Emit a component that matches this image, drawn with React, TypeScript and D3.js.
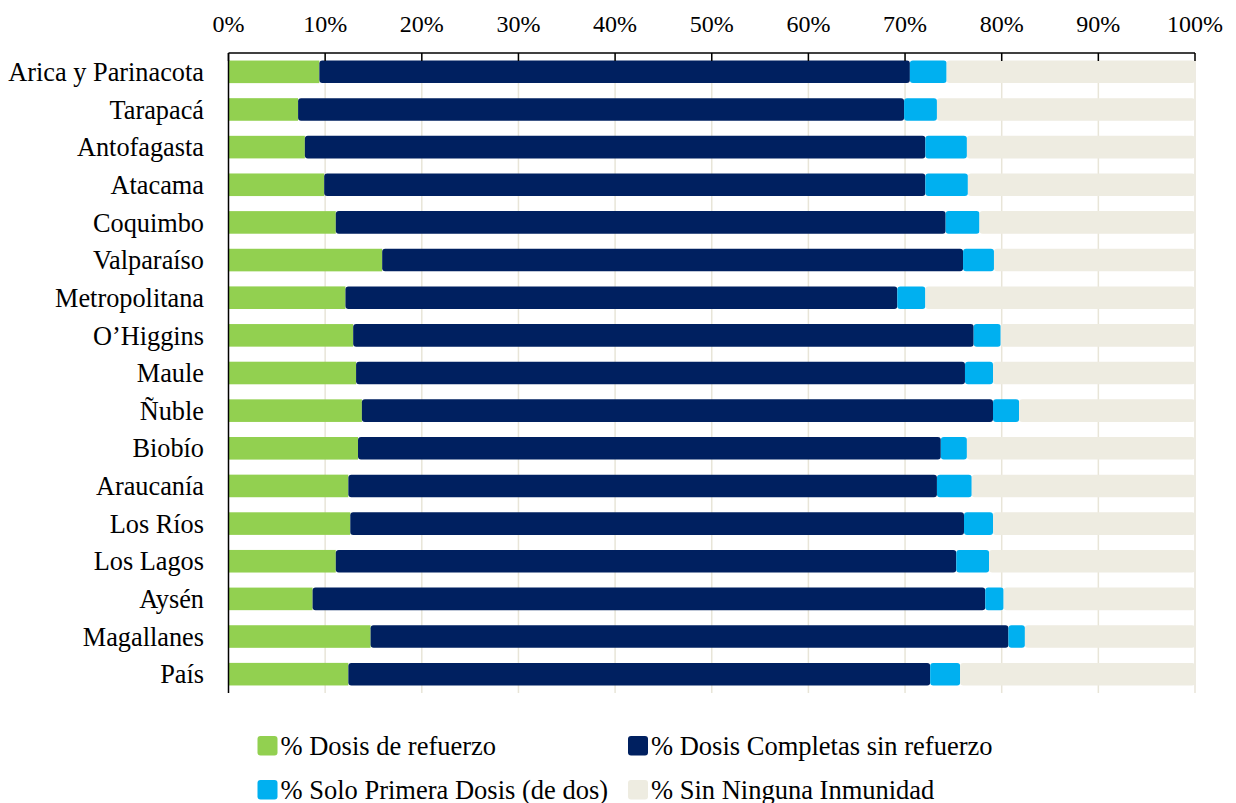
import React from "react";
import * as d3 from "d3";

const regions = [
  "Arica y Parinacota", "Tarapacá", "Antofagasta", "Atacama", "Coquimbo", "Valparaíso",
  "Metropolitana", "O’Higgins", "Maule", "Ñuble", "Biobío", "Araucanía", "Los Ríos",
  "Los Lagos", "Aysén", "Magallanes", "País",
];
const refuerzo = [9.4, 7.2, 7.9, 9.9, 11.1, 15.9, 12.1, 12.9, 13.2, 13.8, 13.4, 12.4, 12.6, 11.1, 8.7, 14.7, 12.4];
const completas = [61.1, 62.7, 64.2, 62.2, 63.1, 60.1, 57.1, 64.2, 63.0, 65.3, 60.3, 60.9, 63.5, 64.2, 69.6, 66.0, 60.2];
const primera = [3.8, 3.4, 4.3, 4.4, 3.5, 3.2, 2.9, 2.8, 2.9, 2.7, 2.7, 3.6, 3.0, 3.4, 1.9, 1.7, 3.1];
const ninguna = [25.7, 26.7, 23.6, 23.5, 22.3, 20.8, 27.9, 20.1, 20.9, 18.2, 23.6, 23.1, 20.9, 21.3, 19.8, 17.6, 24.3];

const seriesNames = [
  "% Dosis de refuerzo",
  "% Dosis Completas sin refuerzo",
  "% Solo Primera Dosis (de dos)",
  "% Sin Ninguna Inmunidad",
];
const seriesKeys = ["refuerzo", "completas", "primera", "ninguna"];
const colors = ["#92D050", "#002060", "#00B0F0", "#EEECE1"];
const xTicks = [0, 10, 20, 30, 40, 50, 60, 70, 80, 90, 100];

const FONT = "'Liberation Serif', 'Times New Roman', serif";

export default function App() {
  const W = 1236, H = 803;
  const left = 228.5, right = 1195, top = 53, bottom = 693;

  const rows = regions.map((r, i) => ({
    region: r,
    refuerzo: refuerzo[i],
    completas: completas[i],
    primera: primera[i],
    ninguna: ninguna[i],
  }));

  const x = d3.scaleLinear().domain([0, 100]).range([left, right]);
  const y = d3.scaleBand<string>().domain(regions).range([top, bottom]).paddingInner(0.4).paddingOuter(0.2);
  const stacked = d3.stack<any>().keys(seriesKeys)(rows);

  const legendItems = [
    { i: 0, x: 257.5, y: 736 },
    { i: 1, x: 628, y: 736 },
    { i: 2, x: 257.5, y: 780 },
    { i: 3, x: 628, y: 780 },
  ];

  return (
    <svg width={W} height={H} style={{ position: "absolute", left: 0, top: 0, background: "#fff" }} fontFamily={FONT}>
      {/* gridlines */}
      {xTicks.filter((t) => t > 0).map((t) => (
        <line key={"g" + t} x1={x(t)} x2={x(t)} y1={top} y2={bottom} stroke="#E8E5D8" strokeWidth={1.5} />
      ))}
      {/* bars */}
      {stacked.map((s, si) => (
        <g key={s.key} fill={colors[si]}>
          {s.map((d, di) => (
            <rect
              key={di}
              x={x(d[0])}
              y={y(regions[di])!}
              width={Math.max(0, x(d[1]) - x(d[0]))}
              height={y.bandwidth()}
              rx={si === 0 ? 0 : 3}
              ry={si === 0 ? 0 : 3}
            />
          ))}
        </g>
      ))}
      {/* axes */}
      <line x1={left} x2={right} y1={top} y2={top} stroke="#000" strokeWidth={1.5} />
      <line x1={left} x2={left} y1={top} y2={bottom} stroke="#000" strokeWidth={1.5} />
      {xTicks.map((t) => (
        <g key={"t" + t}>
          <line x1={x(t)} x2={x(t)} y1={top} y2={top + 8} stroke="#000" strokeWidth={1.5} />
          <text x={x(t)} y={31.5} textAnchor="middle" fontSize={24} fill="#000">
            {t + "%"}
          </text>
        </g>
      ))}
      {regions.map((r) => (
        <text key={r} x={204} y={y(r)! + y.bandwidth() / 2 + 9.2} textAnchor="end" fontSize={26.3} fill="#000">
          {r}
        </text>
      ))}
      {/* legend */}
      {legendItems.map((it) => (
        <g key={"l" + it.i}>
          <rect x={it.x} y={it.y} width={20} height={19.5} rx={3} fill={colors[it.i]} />
          <text x={it.x + 23} y={it.y + 18.5} fontSize={26.5} fill="#000">
            {seriesNames[it.i]}
          </text>
        </g>
      ))}
    </svg>
  );
}
